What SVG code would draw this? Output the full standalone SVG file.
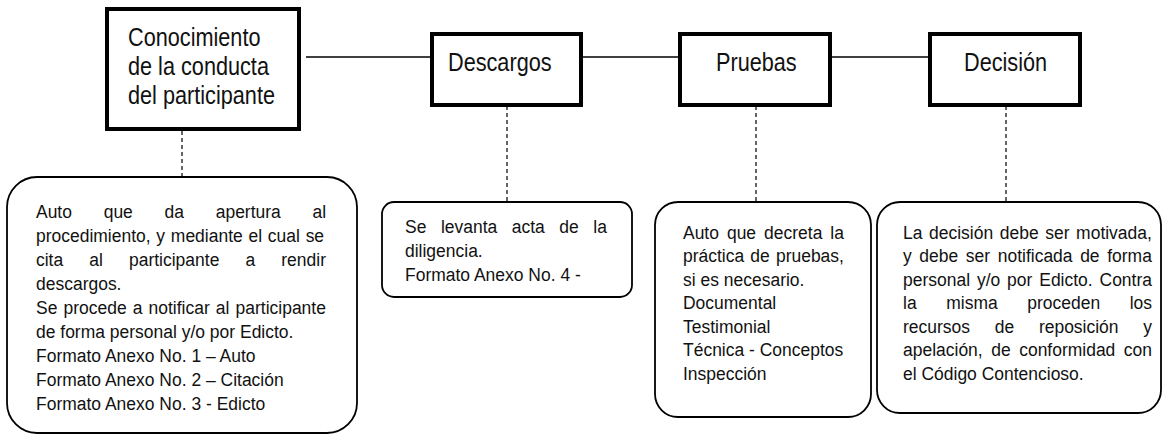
<svg xmlns="http://www.w3.org/2000/svg" width="1171" height="436" viewBox="0 0 1171 436">
<style>
.step{fill:#fff;stroke:#000;stroke-width:4}
.note{fill:#fff;stroke:#000;stroke-width:1.8}
.line{stroke:#000;stroke-width:1.6;fill:none}
.dot{stroke:#000;stroke-width:1.2;fill:none;stroke-dasharray:4 3}
.title{font-family:"Liberation Sans",Arial,sans-serif;font-size:25.5px;fill:#111}
.body{font-family:"Liberation Sans",Arial,sans-serif;font-size:19px;fill:#111}
</style>
<rect width="1171" height="436" fill="#fff"/>
<g id="connectors">
<line class="line" x1="306" y1="57" x2="430" y2="57"/>
<line class="line" x1="583" y1="57" x2="678" y2="57"/>
<line class="line" x1="832" y1="57" x2="928" y2="57"/>
<line class="dot" x1="182" y1="131" x2="182" y2="177"/>
<line class="dot" x1="507" y1="106" x2="507" y2="202"/>
<line class="dot" x1="756" y1="106" x2="756" y2="202"/>
<line class="dot" x1="1006" y1="106" x2="1006" y2="202"/>
</g>
<g id="n-conocimiento">
<rect class="step" x="107" y="9" width="192" height="120"/>
<g transform="translate(128 0) scale(0.85 1)">
<text class="title" x="0" y="46">Conocimiento</text>
<text class="title" x="0" y="75">de la conducta</text>
<text class="title" x="0" y="104">del participante</text>
</g>
</g>
<g id="n-descargos">
<rect class="step" x="432" y="34" width="149" height="71"/>
<text class="title" transform="translate(448 71) scale(0.85 1)">Descargos</text>
</g>
<g id="n-pruebas">
<rect class="step" x="680" y="34" width="150" height="71"/>
<text class="title" transform="translate(716 71) scale(0.85 1)">Pruebas</text>
</g>
<g id="n-decision">
<rect class="step" x="930" y="34" width="150" height="71"/>
<text class="title" transform="translate(964 71) scale(0.85 1)">Decisión</text>
</g>
<g id="note-conocimiento">
<rect class="note" x="7" y="177" width="350" height="256" rx="30"/>
<g transform="translate(36 0) scale(0.92 1)">
<text class="body" x="0" y="218" word-spacing="29.2">Auto que da apertura al</text>
<text class="body" x="0" y="242" word-spacing="0.97">procedimiento, y mediante el cual se</text>
<text class="body" x="0" y="266" word-spacing="23.1">cita al participante a rendir</text>
<text class="body" x="0" y="290">descargos.</text>
<text class="body" x="0" y="314" word-spacing="1.36">Se procede a notificar al participante</text>
<text class="body" x="0" y="338">de forma personal y/o por Edicto.</text>
<text class="body" x="0" y="362">Formato Anexo No. 1 – Auto</text>
<text class="body" x="0" y="386">Formato Anexo No. 2 – Citación</text>
<text class="body" x="0" y="410">Formato Anexo No. 3 - Edicto</text>
</g>
</g>
<g id="note-descargos">
<rect class="note" x="382" y="202" width="250" height="95" rx="12"/>
<g transform="translate(405 0) scale(0.92 1)">
<text class="body" x="0" y="233" word-spacing="10.5">Se levanta acta de la</text>
<text class="body" x="0" y="257">diligencia.</text>
<text class="body" x="0" y="281">Formato Anexo No. 4 -</text>
</g>
</g>
<g id="note-pruebas">
<rect class="note" x="655" y="202" width="216" height="215" rx="23"/>
<g transform="translate(683 0) scale(0.92 1)">
<text class="body" x="0" y="239" word-spacing="3.4">Auto que decreta la</text>
<text class="body" x="0" y="262.5" word-spacing="1.4">práctica de pruebas,</text>
<text class="body" x="0" y="286">si es necesario.</text>
<text class="body" x="0" y="309.5">Documental</text>
<text class="body" x="0" y="333">Testimonial</text>
<text class="body" x="0" y="356.5">Técnica - Conceptos</text>
<text class="body" x="0" y="380">Inspección</text>
</g>
</g>
<g id="note-decision">
<rect class="note" x="877" y="202" width="284" height="211" rx="23"/>
<g transform="translate(903 0) scale(0.92 1)">
<text class="body" x="0" y="239" word-spacing="1.9">La decisión debe ser motivada,</text>
<text class="body" x="0" y="262.5" word-spacing="3">y debe ser notificada de forma</text>
<text class="body" x="0" y="286" word-spacing="2.2">personal y/o por Edicto. Contra</text>
<text class="body" x="0" y="309.5" word-spacing="26.9">la misma proceden los</text>
<text class="body" x="0" y="333" word-spacing="21.6">recursos de reposición y</text>
<text class="body" x="0" y="356.5" word-spacing="4">apelación, de conformidad con</text>
<text class="body" x="0" y="380">el Código Contencioso.</text>
</g>
</g>
</svg>
